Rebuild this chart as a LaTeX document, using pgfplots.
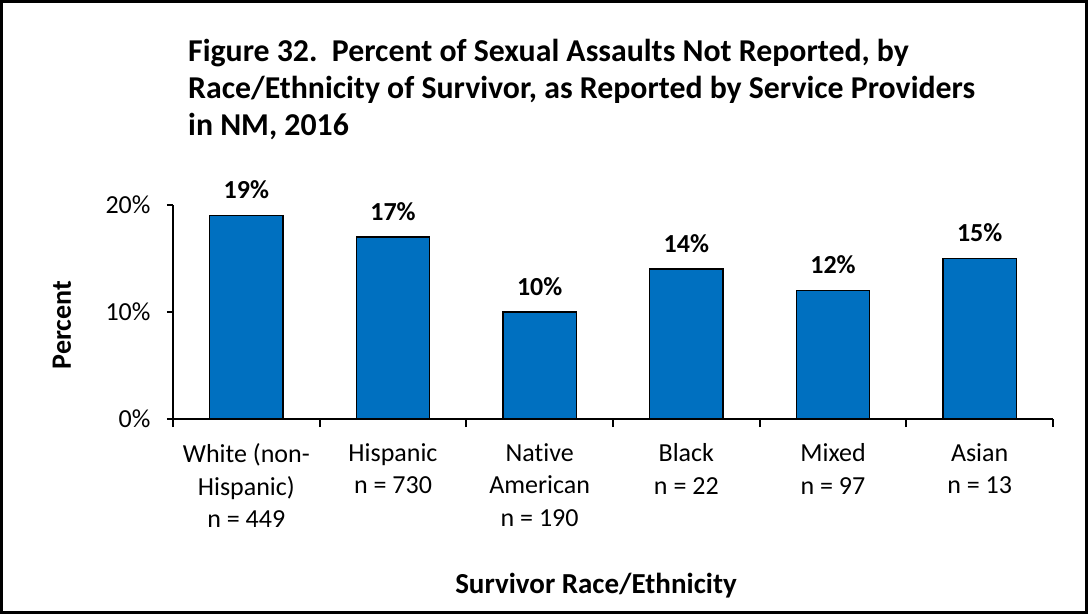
\documentclass[border=0pt]{standalone}
\usepackage{pgfplots}
\pgfplotsset{compat=1.18}
\usepackage{fontspec}
\setmainfont{Carlito}[Ligatures=NoCommon]
\definecolor{barblue}{HTML}{0070C0}
\begin{document}
\begin{tikzpicture}
\useasboundingbox (0pt,0pt) rectangle (1088pt,614pt);
\draw[line width=3pt] (1.5pt,1.5pt) rectangle (1086.5pt,612.5pt);
\node[anchor=base west, align=left, inner sep=0pt, font=\fontsize{31.8}{37}\selectfont\bfseries] at (188pt,478pt)
 {Figure 32.\ \ Percent of Sexual Assaults Not Reported, by\\Race/Ethnicity of Survivor, as Reported by Service Providers\\in NM, 2016};
\begin{axis}[
  at={(173pt,195pt)}, anchor=south west,
  scale only axis, width=880pt, height=214pt,
  xmin=0.5, xmax=6.5, ymin=0, ymax=20,
  axis lines*=left,
  axis line style={line width=2.5pt},
  ybar, bar width=0.5,
  xtick={1,2,3,4,5,6},
  xticklabels={White (non-\\Hispanic)\\n = 449, Hispanic\\n = 730, Native\\American\\n = 190, Black\\n = 22, Mixed\\n = 97, Asian\\n = 13},
  major x tick style={draw=none},
  minor xtick={0.5,1.5,2.5,3.5,4.5,5.5,6.5},
  minor tick length=8pt,
  minor x tick style={line width=2pt,black},
  ytick={0,10,20},
  yticklabel={\pgfmathprintnumber{\tick}\%},
  major tick length=6pt,
  major y tick style={line width=2pt,black},
  tick align=outside,
  /pgf/number format/assume math mode=true,
  xticklabel style={align=center, font=\fontsize{26}{32.5}\selectfont, yshift=-15pt},
  yticklabel style={font=\fontsize{26}{33}\selectfont, xshift=-13pt},
  ylabel={\bfseries Percent},
  ylabel style={font=\fontsize{28}{33}\selectfont, at={(axis description cs:0,0.5)}, anchor=center, rotate=0, yshift=111pt, xshift=-13pt},
  xlabel={\bfseries Survivor Race/Ethnicity},
  xlabel style={font=\fontsize{29}{33}\selectfont, at={(axis description cs:0.5,0)}, anchor=base, yshift=-174pt, xshift=-17pt},
  nodes near coords={\pgfmathprintnumber{\pgfplotspointmeta}\%},
  every node near coord/.append style={font=\fontsize{26}{33}\selectfont\bfseries, inner sep=0pt, anchor=south, yshift=16pt},
  clip=false,
]
\addplot[fill=barblue, draw=black, line width=1.5pt] coordinates {(1,19) (2,17) (3,10) (4,14) (5,12) (6,15)};
\end{axis}
\end{tikzpicture}
\end{document}
